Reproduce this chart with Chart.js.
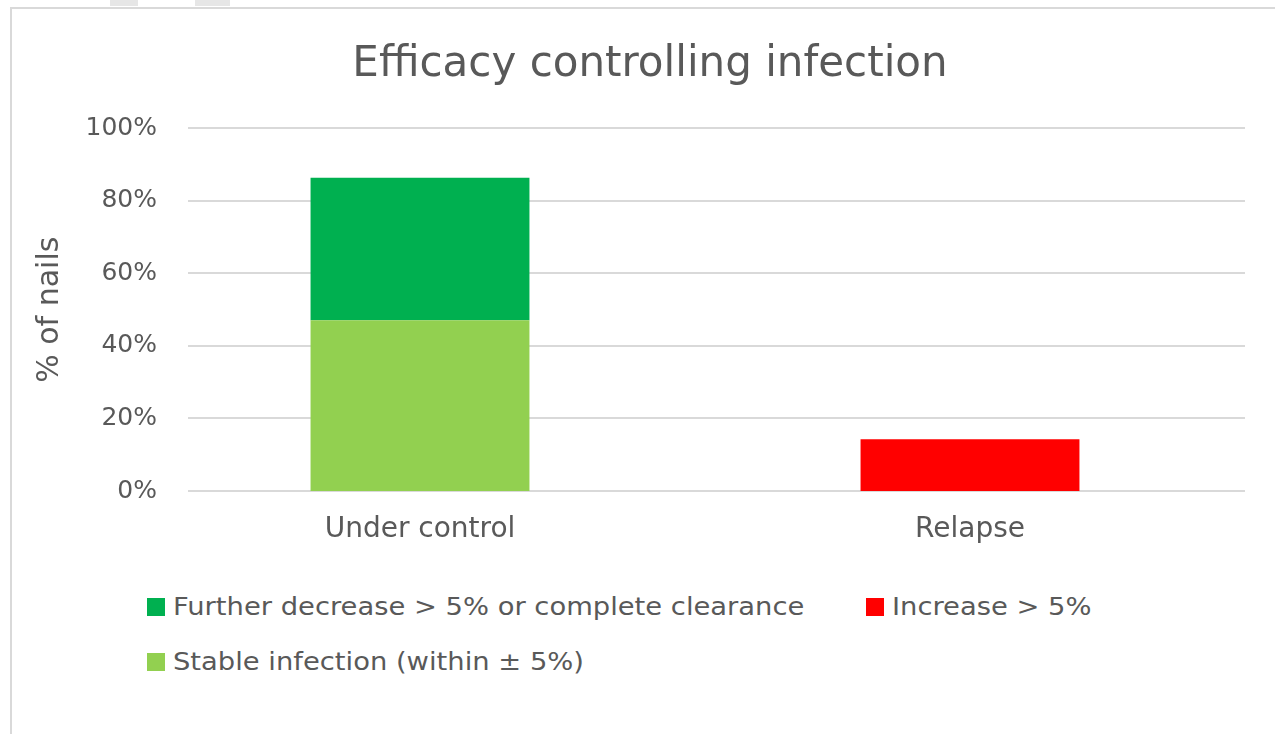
<!DOCTYPE html>
<html>
<head>
<meta charset="utf-8">
<script src="https://cdn.jsdelivr.net/npm/chart.js@4.4.0/dist/chart.umd.min.js"></script>
<style>
  body { margin: 0; background: #fff; overflow: hidden; font-family: "DejaVu Sans", sans-serif; }
  .frame { position: absolute; left: 10px; top: 7px; width: 1400px; height: 900px;
           border-left: 2px solid #d9d9d9; border-top: 2px solid #d9d9d9; }
  .tab { position: absolute; top: 0; height: 6px; background: #e6e6e6; }
  .wrap { position: absolute; left: 0; top: 0; width: 1275px; height: 560px; }
  #legend { position: absolute; left: 147px; top: 594px; display: grid;
            grid-template-columns: 719px auto; row-gap: 29px; }
  .item { display: flex; align-items: center; font-size: 24px; color: #595959; line-height: 26px; }
  .box { width: 18px; height: 18px; margin-right: 8px; flex: none; }
  .txt { display: inline-block; white-space: nowrap; transform: scaleX(1.14); transform-origin: left center; }
</style>
</head>
<body>
<div class="frame"></div>
<div class="tab" style="left:110px;width:28px"></div>
<div class="tab" style="left:195px;width:35px"></div>
<div class="wrap"><canvas id="myChart"></canvas></div>
<div id="legend"></div>
<script>
// data
const categories = ["Under control", "Relapse"];
const stableValues = [47.1, 0];
const decreaseValues = [39.3, 0];
const increaseValues = [0, 14.3];
const seriesNames = ["Stable infection (within \u00b1 5%)", "Further decrease > 5% or complete clearance", "Increase > 5%"];
const seriesColors = ["#92d050", "#00b050", "#ff0000"];
const legendOrder = [1, 2, 0];
const yTicks = [0, 20, 40, 60, 80, 100];

const grey = "#595959";
const font = "DejaVu Sans";
const tickSize = 25;
const gridStart = 188;

// y labels end 12px right of the plot edge; mirror mode avoids the label clip
const measure = document.createElement("canvas").getContext("2d");
measure.font = tickSize + "px " + font;
const widestTick = Math.max(...yTicks.map(v => measure.measureText(v + "%").width));

// horizontal grid lines start a bit right of the plot's left edge, as in the original
const gridPlugin = {
  id: "gridLines",
  beforeDatasetsDraw(chart) {
    const ctx = chart.ctx;
    const y = chart.scales.y;
    ctx.save();
    ctx.strokeStyle = "#d9d9d9";
    ctx.lineWidth = 2;
    yTicks.forEach(v => {
      const py = Math.round(y.getPixelForValue(v));
      ctx.beginPath();
      ctx.moveTo(gridStart, py);
      ctx.lineTo(chart.chartArea.right, py);
      ctx.stroke();
    });
    ctx.restore();
  }
};

const chart = new Chart("myChart", {
  type: "bar",
  data: {
    labels: categories,
    datasets: [
      { label: seriesNames[0], data: stableValues, backgroundColor: seriesColors[0] },
      { label: seriesNames[1], data: decreaseValues, backgroundColor: seriesColors[1] },
      { label: seriesNames[2], data: increaseValues, backgroundColor: seriesColors[2] }
    ]
  },
  plugins: [gridPlugin],
  options: {
    responsive: false,
    animation: false,
    maintainAspectRatio: false,
    layout: { padding: { left: 55, right: 30, top: 0, bottom: 0 } },
    datasets: { bar: { categoryPercentage: 1, barPercentage: 0.398, borderWidth: 0 } },
    plugins: {
      legend: { display: false },
      tooltip: { enabled: false },
      title: {
        display: true,
        text: "Efficacy controlling infection",
        color: grey,
        font: { family: font, size: 42, weight: "normal" },
        padding: { top: 40, bottom: 38 }
      }
    },
    scales: {
      x: {
        stacked: true,
        grid: { display: false, drawTicks: false },
        border: { display: false },
        ticks: { color: grey, font: { family: font, size: 28 }, padding: 22 },
        afterFit: s => { s.height = 69; }
      },
      y: {
        stacked: true,
        min: 0,
        max: 100,
        afterBuildTicks: s => { s.ticks = yTicks.map(v => ({ value: v })); },
        ticks: {
          color: grey,
          font: { family: font, size: tickSize },
          mirror: true,
          crossAlign: "far",
          padding: 12 - widestTick,
          callback: v => v + "%"
        },
        grid: { display: false, drawTicks: false },
        border: { display: false },
        title: {
          display: true,
          text: "% of nails",
          color: grey,
          font: { family: font, size: 30 },
          padding: { top: -23, bottom: 0 }
        },
        afterFit: s => { s.width = 90; }
      }
    }
  }
});
chart.resize(1275, 560);

// legend from the datasets
const legend = document.getElementById("legend");
legendOrder.forEach(i => {
  const ds = chart.data.datasets[i];
  const item = document.createElement("div");
  item.className = "item";
  item.innerHTML = '<span class="box" style="background:' + ds.backgroundColor + '"></span><span class="txt">' + ds.label + '</span>';
  legend.appendChild(item);
});
</script>
</body>
</html>
